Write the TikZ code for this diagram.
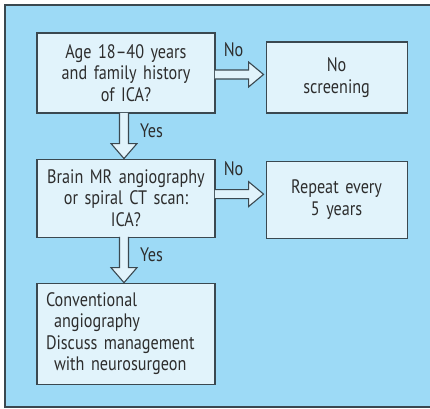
\documentclass[tikz,border=0pt]{standalone}
\usepackage{fontspec}
\setmainfont[FakeStretch=0.83]{PT Sans}
\usetikzlibrary{positioning}
\definecolor{panelblue}{RGB}{157,218,246}
\definecolor{boxfill}{RGB}{225,243,251}
\definecolor{edgegrey}{RGB}{58,72,80}
\definecolor{inkgrey}{RGB}{45,45,45}

% block arrow straight down from the bottom of #1 into the top of #2
\newcommand{\flowdown}[2]{%
  \filldraw[blk] ([xshift=-6.5pt,yshift=0.7pt]#1.south)
    -- ([xshift=-6.5pt,yshift=15pt]#2.north) -- ([xshift=-15pt,yshift=15pt]#2.north)
    -- ([xshift=-2pt]#2.north)
    -- ([xshift=11pt,yshift=15pt]#2.north) -- ([xshift=2.5pt,yshift=15pt]#2.north)
    -- ([xshift=2.5pt,yshift=0.7pt]#1.south);}
% block arrow to the right from #1 to #2, #3 = shift of its axis
\newcommand{\flowright}[3]{%
  \coordinate (fa) at ([yshift=#3]#1.east);
  \coordinate (fb) at (#2.west |- fa);
  \filldraw[blk] ([xshift=-0.7pt,yshift=4.5pt]fa)
    -- ([xshift=-17pt,yshift=4.5pt]fb) -- ([xshift=-17pt,yshift=12.5pt]fb)
    -- ([xshift=-2pt]fb)
    -- ([xshift=-17pt,yshift=-12.5pt]fb) -- ([xshift=-17pt,yshift=-4.5pt]fb)
    -- ([xshift=-0.7pt,yshift=-4.5pt]fa);}

\begin{document}
\begin{tikzpicture}[
  x=1pt, y=1pt,
  font=\fontsize{19.5}{21.5}\selectfont, text=inkgrey,
  box/.style={draw=edgegrey, fill=boxfill, line width=1.1pt, align=center,
              text width=178pt, inner xsep=0pt, inner ysep=2pt},
  sidebox/.style={box, text width=141pt},
  blk/.style={draw=edgegrey, fill=boxfill, line width=1.1pt, line join=miter},
  lbl/.style={inner sep=0pt}]

\useasboundingbox (0,0) rectangle (430,408);
\begin{scope}
\clip (0,0) rectangle (430,408);
\draw[draw=edgegrey, fill=panelblue, line width=1.4pt] (5,1) rectangle (436,403);
\end{scope}

% --- left column: the two questions and the final step
\node[box, minimum height=80pt] (age) at (126,335) {Age 18--40 years\\and family history\\of ICA?};
\node[box, minimum height=78pt, below=45pt of age] (mra) {Brain MR angiography\\or spiral CT scan:\\ICA?};
\node[box, minimum height=101pt, text width=160pt, inner xsep=9pt, align=left, below=45pt of mra] (conv)
  {Conventional\\\hspace*{8pt}angiography\\Discuss management\\\hspace*{8pt}with neurosurgeon};

% --- right column: the "no" outcomes
\node[sidebox, minimum height=71pt, anchor=south west] (noscr) at ([xshift=50pt]age.south east) {No\\screening};
\node[sidebox, minimum height=77pt, right=50pt of mra, yshift=-1.5pt] (rep) {Repeat every\\5 years};

% --- connectors
\flowdown{age}{mra}
\flowdown{mra}{conv}
\flowright{age}{noscr}{-1.5pt}
\flowright{mra}{rep}{4pt}

\node[lbl, anchor=west] at ([xshift=14pt,yshift=-17pt]age.south) {Yes};
\node[lbl, anchor=west] at ([xshift=14pt,yshift=-17pt]mra.south) {Yes};
\node[lbl] at ([xshift=18pt,yshift=23pt]age.east) {No};
\node[lbl] at ([xshift=18pt,yshift=29pt]mra.east) {No};
\end{tikzpicture}
\end{document}
